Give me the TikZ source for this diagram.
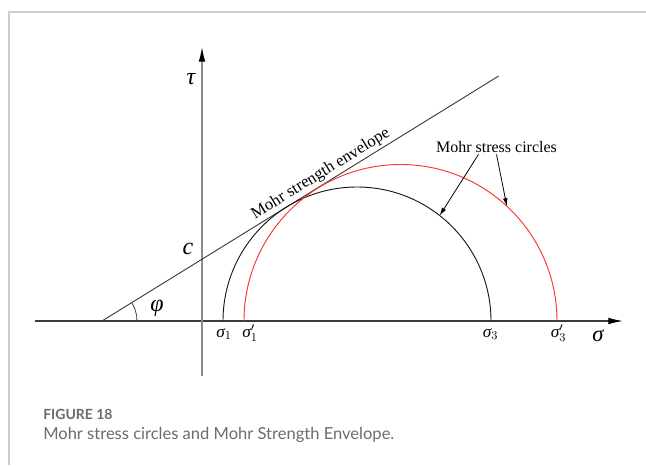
\documentclass[tikz,border=0pt]{standalone}
\usepackage{fontspec}
\setmainfont{Liberation Serif}
\newfontfamily\capfont{Lato}
\usetikzlibrary{arrows.meta, calc}
\definecolor{framegray}{HTML}{CCCCCC}
\definecolor{axisgray}{HTML}{8C8C8C}
\definecolor{linegray}{HTML}{3C3C3C}
\definecolor{capgray}{HTML}{6B6B6B}
\definecolor{mohrred}{HTML}{FF3030}
\newcommand{\sgm}{\mbox{\itshape σ}}
\tikzset{
	axis/.style = {line width=0.9pt, -{Latex[black, length=11pt, width=5pt]}},
	curve/.style = {line width=0.7pt},
	stresslbl/.style = {font=\fontsize{13}{15}\selectfont, anchor=base},
	biglbl/.style = {font=\fontsize{18}{20}\selectfont\itshape},
	pointer/.style = {line width=0.6pt, -{Latex[length=6pt, width=3.5pt]}}
}

\begin{document}
\begin{tikzpicture}[x=0.75pt, y=0.75pt, font=\fontsize{12}{14}\selectfont]
	\def\Ang{31.7}
	\def\Rb{134}
	\def\Rr{156.5}
	
	\useasboundingbox (-202,-144) rectangle (444,321);
	\draw[framegray, line width=1.5pt] (-193,-144) -- (-193,309) -- (444,309);
	
	\coordinate (O) at (0,0);
	\coordinate (A) at (-100,0);
	\coordinate (E) at ($(A)+(\Ang:466)$);
	\coordinate (Cb) at (155,0);
	\coordinate (Cr) at (198.5,0);
	\coordinate (s1) at ($(Cb)+(-\Rb,0)$);
	\coordinate (s1p) at ($(Cr)+(-\Rr,0)$);
	\coordinate (pb) at ($(Cb)+(51.9:\Rb)$);
	\coordinate (pr) at ($(Cr)+(47.2:\Rr)$);
	
	% axes
	\draw[axis, linegray]	(-167,0) -- (421,0);
	\draw[axis, axisgray]	(0,-55) -- (0,274);
	
	% envelope and circles
	\draw[curve, linegray]	(A) -- (E) node[pos=0.565, sloped, above, inner sep=1.5pt, text=black, font=\fontsize{12.5}{14}\selectfont] {Mohr strength envelope};
	\draw[linegray, line width=0.6pt] ($(A)+(35,0)$) arc[start angle=0, end angle=\Ang, radius=35];
	\draw[curve, black!90]	(s1) arc[start angle=180, end angle=0, radius=\Rb];
	\draw[curve, mohrred]	(s1p) arc[start angle=180, end angle=0, radius=\Rr];
	
	\node[biglbl] (tau) at (-11,242) {τ};
	\node[biglbl] (c) at (-14,72) {c};
	\node[biglbl] (phi) at (-45,13) {φ};
	\node[font=\fontsize{17}{20}\selectfont\itshape, anchor=base] (sig) at (396,-20) {σ};
	\node[stresslbl] (l1) at (22,-16) {$\sgm_1$};
	\node[stresslbl] (l1p) at (48,-16) {$\sgm_1'$};
	\node[stresslbl] (l3) at (288.5,-16) {$\sgm_3$};
	\node[stresslbl] (l3p) at (356.5,-16) {$\sgm_3'$};
	
	\node (circlbl) at (294.5,174) {Mohr stress circles};
	\draw[pointer]	($(circlbl.south)+(-18,3)$) -- (pb);
	\draw[pointer]	($(circlbl.south)+(0,3)$) -- (pr);
	
	% caption
	\node[anchor=base west, inner sep=0pt, font=\capfont\bfseries\fontsize{10.5}{12}\selectfont, text=capgray] (fig) at (-159,-98) {FIGURE 18};
	\node[anchor=base west, inner sep=0pt, font=\capfont\fontsize{12.4}{14}\selectfont, text=capgray] (cap) at (-159,-118) {Mohr stress circles and Mohr Strength Envelope.};
\end{tikzpicture}
\end{document}
